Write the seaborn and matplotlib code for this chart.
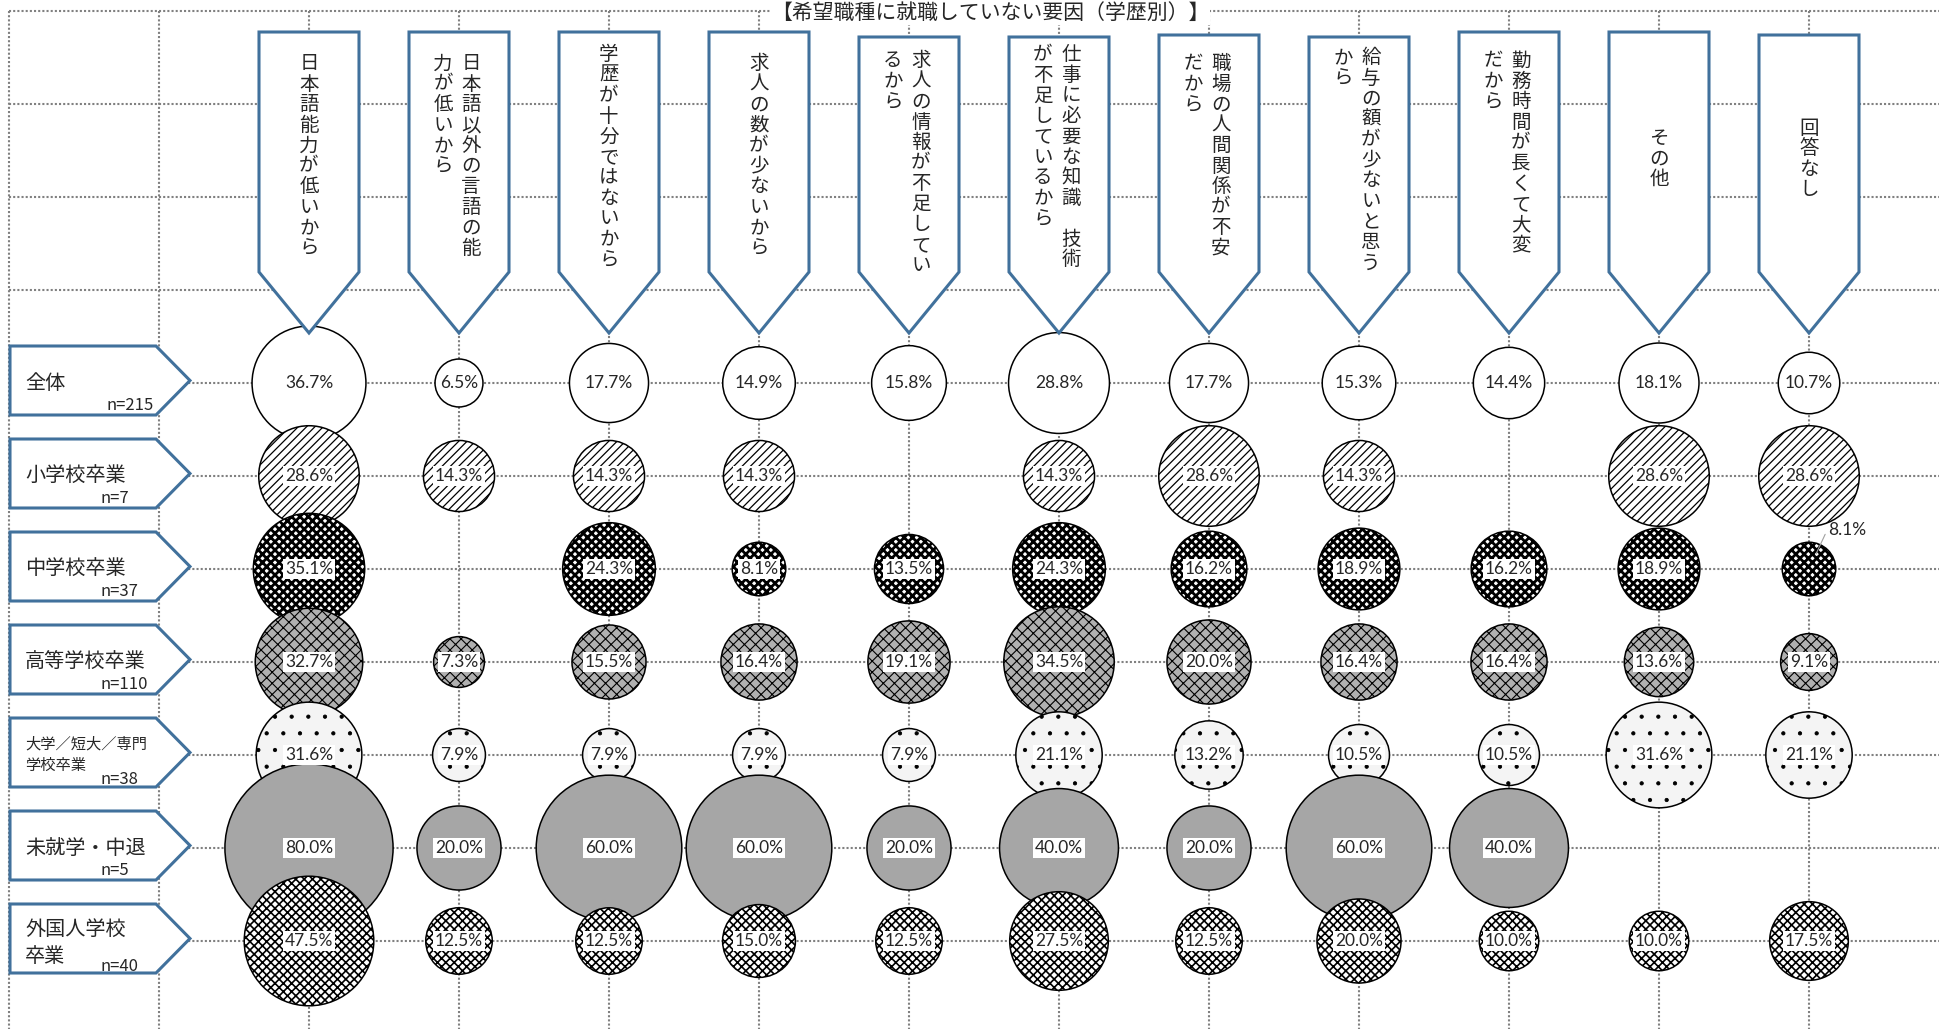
import numpy as np
import pandas as pd
import seaborn as sns
import matplotlib as mpl
import matplotlib.pyplot as plt
from matplotlib.patches import Polygon

sns.set_theme(style='white')
plt.rcParams['font.family'] = ['Noto Sans CJK JP', 'DejaVu Sans']

title = '【希望職種に就職していない要因（学歴別）】'

# reasons (column headers), written as vertical text, lines right to left
reasons = ['日本語能力が低いから', '日本語以外の言語の能力が低いから', '学歴が十分ではないから',
           '求人の数が少ないから', '求人の情報が不足しているから', '仕事に必要な知識 技術が不足しているから',
           '職場の人間関係が不安だから', '給与の額が少ないと思うから', '勤務時間が長くて大変だから',
           'その他', '回答なし']
header_lines = [['日本語能力が低いから'], ['日本語以外の言語の能', '力が低いから'],
                ['学歴が十分ではないから'], ['求人の数が少ないから'],
                ['求人の情報が不足してい', 'るから'], ['仕事に必要な知識 技術', 'が不足しているから'],
                ['職場の人間関係が不安', 'だから'], ['給与の額が少ないと思う', 'から'],
                ['勤務時間が長くて大変', 'だから'], ['その他'], ['回答なし']]

groups = ['全体', '小学校卒業', '中学校卒業', '高等学校卒業', '大学／短大／専門\n学校卒業',
          '未就学・中退', '外国人学校\n卒業']
group_n = ['n=215', 'n=7', 'n=37', 'n=110', 'n=38', 'n=5', 'n=40']

v_total = [36.7, 6.5, 17.7, 14.9, 15.8, 28.8, 17.7, 15.3, 14.4, 18.1, 10.7]
v_elem = [28.6, 14.3, 14.3, 14.3, np.nan, 14.3, 28.6, 14.3, np.nan, 28.6, 28.6]
v_junior = [35.1, np.nan, 24.3, 8.1, 13.5, 24.3, 16.2, 18.9, 16.2, 18.9, 8.1]
v_high = [32.7, 7.3, 15.5, 16.4, 19.1, 34.5, 20.0, 16.4, 16.4, 13.6, 9.1]
v_univ = [31.6, 7.9, 7.9, 7.9, 7.9, 21.1, 13.2, 10.5, 10.5, 31.6, 21.1]
v_none = [80.0, 20.0, 60.0, 60.0, 20.0, 40.0, 20.0, 60.0, 40.0, np.nan, np.nan]
v_foreign = [47.5, 12.5, 12.5, 15.0, 12.5, 27.5, 12.5, 20.0, 10.0, 10.0, 17.5]
values = [v_total, v_elem, v_junior, v_high, v_univ, v_none, v_foreign]

# long table: grid column = reason index + 2, grid row = group index + 4
rows = []
for g, vals in enumerate(values):
    for r, v in enumerate(vals):
        if not np.isnan(v):
            rows.append({'group': g, 'reason': r, 'x': r + 2, 'y': g + 4, 'value': v})
df = pd.DataFrame(rows)

# fill style of each group's bubbles
styles = [
    dict(fc='white'),
    dict(fc='white', hatch='////', hc='#4d4d4d', hlw=0.9),
    dict(fc='white', hatch='xxxx', hc='black', hlw=2.0),
    dict(fc='#b0b0b0', hatch='xxx', hc='#5a5a5a', hlw=0.8),
    dict(fc='#f4f4f4', hatch='.', hc='#404040', hlw=0.6),
    dict(fc='#a6a6a6'),
    dict(fc='white', hatch='xxxx', hc='#555555', hlw=1.2),
]

# pixel layout helpers (grid cell 150 x 93 px, origin at 9, 11)
W, H = 1939, 1029
def X(px):
    return (px - 9) / 150
def Y(py):
    return (py - 11) / 93

fig = plt.figure(figsize=(W / 100, H / 100), dpi=100)
ax = fig.add_axes([0, 0, 1, 1])
ax.set_xlim(X(0), X(W))
ax.set_ylim(Y(H), Y(0))
ax.axis('off')

grid_kw = dict(color='#808080', lw=1.5, ls=(0, (1, 1)), zorder=0)
for k in range(13):
    ax.plot([k, k], [0, Y(H)], **grid_kw)
for k in range(11):
    ax.plot([0, X(W)], [k, k], **grid_kw)

# bubbles, area proportional to value
K = (0.72 * 18.8) ** 2
for g, st in enumerate(styles):
    sub = df[df['group'] == g]
    with mpl.rc_context({'hatch.color': st.get('hc', 'black'),
                         'hatch.linewidth': st.get('hlw', 1.0)}):
        sns.scatterplot(data=sub, x='x', y='y', size='value', sizes=(0, K * 80),
                        size_norm=(0, 80), color=st['fc'], edgecolor='black',
                        linewidth=1.1, hatch=st.get('hatch'), legend=False,
                        zorder=3, ax=ax)

# value labels
pct_font = ['Lato', 'DejaVu Sans']
for _, row in df.iterrows():
    txt = f"{row['value']:.1f}%"
    if row['group'] == 2 and row['reason'] == 10:
        ax.annotate(txt, xy=(row['x'], row['y']), xytext=(14, 28),
                    textcoords='offset points', ha='left', va='center',
                    fontsize=12.5, family=pct_font, zorder=10,
                    arrowprops=dict(arrowstyle='-', color='#a0a0a0', lw=0.8,
                                    shrinkA=0, shrinkB=12, relpos=(0, 0.5),
                                    connectionstyle='angle,angleA=0,angleB=65,rad=0'))
        continue
    ax.text(row['x'], row['y'], txt, ha='center', va='center', fontsize=12.5,
            family=pct_font, zorder=10,
            bbox=dict(boxstyle='square,pad=0.1', fc='white', ec='none'))

# header arrows
blue = '#41719c'
box_tops = [32, 32, 32, 32, 37, 37, 35, 37, 32, 32, 35]
text_tops = [62, 62, 53, 62, 59, 53, 62, 56, 59, None, None]
for r, lines in enumerate(header_lines):
    cx = 9 + 150 * (r + 2)
    pts = [(cx - 50, box_tops[r]), (cx + 50, box_tops[r]), (cx + 50, 272), (cx, 333), (cx - 50, 272)]
    ax.add_patch(Polygon([(X(a), Y(b)) for a, b in pts], closed=True, fc='white',
                         ec=blue, lw=2.2, zorder=5))
    n = len(lines)
    offs = [0] if n == 1 else [12, -16]
    for li, line in enumerate(lines):
        if text_tops[r] is None:
            y0 = 157 - (len(line) - 1) * 20.5 / 2
        else:
            y0 = text_tops[r]
        for ci, ch in enumerate(line):
            ax.text(X(cx + offs[li]), Y(y0 + ci * 20.5 + 7.4), ch, ha='center',
                    va='baseline', fontsize=14, zorder=6)

# row label arrows
for g, name in enumerate(groups):
    c = 11 + 93 * (g + 4)
    pts = [(10, c - 37), (156, c - 37), (190, c - 2.5), (156, c + 32), (10, c + 32)]
    ax.add_patch(Polygon([(X(a), Y(b)) for a, b in pts], closed=True, fc='white',
                         ec=blue, lw=2.2, zorder=5))
    if g == 4:
        ax.text(X(25), Y(c - 11), '大学／短大／専門', ha='left', va='center', fontsize=11, zorder=6)
        ax.text(X(25), Y(c + 10), '学校卒業', ha='left', va='center', fontsize=11, zorder=6)
        ny = c + 24
    elif g == 6:
        ax.text(X(25), Y(c - 12), '外国人学校', ha='left', va='center', fontsize=14.5, zorder=6)
        ax.text(X(25), Y(c + 15), '卒業', ha='left', va='center', fontsize=14.5, zorder=6)
        ny = c + 25
    else:
        ax.text(X(25), Y(c), name, ha='left', va='center', fontsize=14.5, zorder=6)
        ny = c + 22
    ax.text(X(107 if g == 0 else 101), Y(ny), group_n[g], ha='left', va='center',
            fontsize=12, zorder=6)

# title sits at the very top edge (kept fully inside the canvas)
fig.text(990 / W, 1 - 13 / H, title, ha='center', va='center', fontsize=15,
         bbox=dict(boxstyle='square,pad=0.05', fc='white', ec='none'), zorder=20)

plt.savefig('out.png', dpi=100)
